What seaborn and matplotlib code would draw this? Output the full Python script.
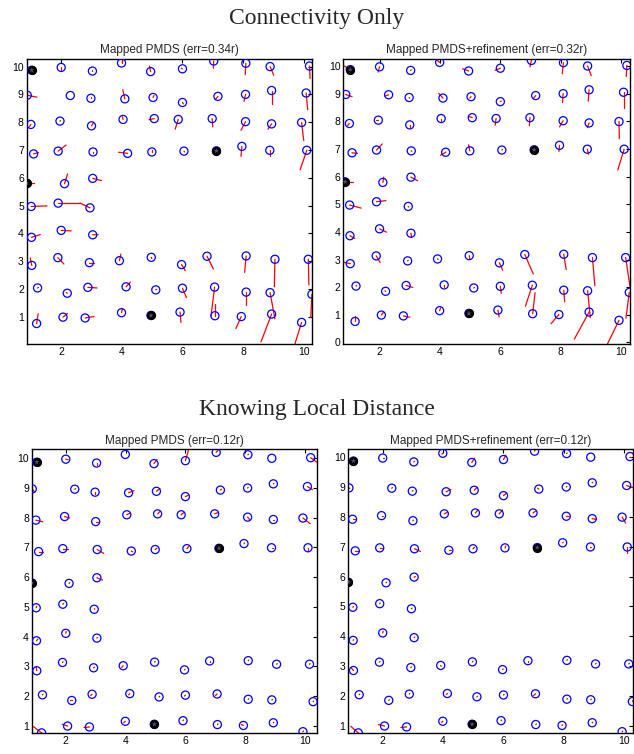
import numpy as np
import pandas as pd
import seaborn as sns
import matplotlib.pyplot as plt

# true sensor positions (same network in all four panels), row by row from top
node_x = [1.03, 2.00, 3.03, 3.99, 4.95, 6.00, 7.03, 8.09, 8.89, 10.19,
          0.88, 2.30, 2.98, 4.10, 5.03, 6.00, 7.17, 8.08, 8.94, 10.08,
          1.00, 1.96, 3.00, 4.04, 5.07, 5.86, 6.98, 8.08, 8.94, 9.93,
          1.09, 1.90, 3.05, 4.19, 4.99, 6.05, 7.12, 7.96, 8.88, 10.10,
          0.86, 2.11, 3.04,
          1.01, 1.90, 2.95,
          1.02, 2.00, 3.04,
          1.03, 1.89, 2.93, 3.92, 4.97, 5.97, 6.81, 8.10, 9.05, 10.15,
          1.22, 2.20, 2.88, 4.14, 5.12, 6.00, 7.06, 8.10, 8.89, 10.27,
          1.19, 2.06, 2.79, 3.99, 4.96, 5.92, 7.07, 7.94, 8.94, 9.93]
node_y = [9.87, 9.97, 9.84, 10.13, 9.82, 9.92, 10.20, 10.12, 10.00, 10.02,
          8.97, 8.96, 8.86, 8.84, 8.89, 8.71, 8.93, 9.00, 9.14, 9.05,
          7.92, 8.04, 7.87, 8.10, 8.13, 8.10, 8.13, 8.02, 7.94, 7.99,
          6.86, 6.96, 6.93, 6.88, 6.93, 6.96, 6.97, 7.13, 6.99, 6.99,
          5.81, 5.79, 5.98,
          4.97, 5.09, 4.92,
          3.86, 4.11, 3.95,
          2.85, 3.13, 2.95, 3.02, 3.14, 2.88, 3.18, 3.19, 3.07, 3.07,
          2.04, 1.85, 2.06, 2.08, 1.97, 2.03, 2.07, 1.89, 1.87, 1.81,
          0.76, 0.99, 0.96, 1.15, 1.05, 1.17, 1.04, 1.01, 1.10, 0.80]
anchor_idx = [0, 36, 40, 73]

# estimated minus true position (dx, dy) for each node
conn_pmds = [(-0.16, 0.12), (0, -0.12), (0, 0.05), (0, 0.15), (-0.04, 0.2), (-0.04, 0.02), (-0.01, -0.26), (-0.02, -0.41), (0.12, -0.31), (0.02, -0.45),
             (0.32, -0.07), (0, 0), (0, 0.05), (-0.07, 0.33), (0.03, 0.07), (0.03, -0.05), (-0.09, -0.12), (-0.05, -0.25), (0, -0.47), (0.05, -0.6),
             (-0.05, -0.08), (0.02, 0.02), (0.06, 0.1), (-0.02, 0.1), (-0.17, -0.04), (-0.1, -0.35), (0.02, -0.3), (-0.15, -0.31), (-0.12, -0.19), (0.07, -0.65),
             (0.16, 0.05), (0.26, 0.22), (0, -0.05), (-0.3, 0.04), (0, 0.08), (0.02, -0.03), (-0.07, -0.1), (-0.03, -0.36), (0, -0.19), (-0.22, -0.7),
             (0.25, 0), (0.1, 0.35), (0.29, -0.08),
             (0.52, 0.02), (0.73, 0), (-0.33, 0.17),
             (0.29, 0.1), (0.33, -0.02), (0.18, 0.01),
             (-0.05, 0.27), (0.2, -0.23), (0.14, 0), (0.05, 0.24), (0.02, -0.04), (0.12, -0.22), (0.21, -0.46), (-0.05, -0.59), (-0.02, -0.99), (0.02, -0.92),
             (0.03, 0.02), (-0.03, 0.03), (0.3, -0.02), (0.14, 0.17), (0.03, 0.02), (0.13, -0.34), (-0.12, -1.05), (0, -0.48), (0.16, -0.94), (-0.04, -0.83),
             (0.05, 0.35), (0.15, 0.13), (0.29, 0.05), (0.03, 0.14), (0.02, 0.02), (0.03, -0.37), (0, 0.42), (-0.18, -0.43), (-0.35, -1.0), (-0.22, -0.77)]
conn_refined = [(-0.2, 0.13), (-0.05, -0.19), (0.02, 0.02), (-0.14, 0.13), (-0.2, 0.08), (-0.17, -0.08), (-0.05, -0.23), (-0.04, -0.4), (0.12, -0.35), (-0.02, -0.4),
                (0.21, -0.08), (-0.12, -0.05), (0.02, -0.02), (-0.14, 0.17), (-0.04, -0.05), (0.03, 0.02), (-0.07, -0.1), (-0.02, -0.32), (-0.03, -0.41), (0, -0.56),
                (-0.06, -0.08), (-0.09, 0), (0, -0.08), (0, -0.08), (-0.13, 0.05), (-0.03, -0.24), (-0.02, -0.29), (-0.12, -0.22), (-0.06, -0.17), (0.01, -0.62),
                (0.18, -0.02), (0.19, 0.22), (0.02, -0.02), (-0.17, -0.11), (-0.04, 0.22), (0.02, 0.02), (-0.02, -0.15), (-0.02, -0.22), (0.04, -0.18), (-0.21, -0.75),
                (0.27, 0), (0.03, 0.19), (0.22, -0.13),
                (0.38, -0.11), (0.31, 0.04), (0.02, -0.02),
                (0.16, -0.1), (0.23, -0.12), (0.02, -0.15),
                (-0.23, 0.05), (0.13, -0.24), (0.02, 0.02), (0.02, -0.02), (0.02, -0.12), (0.11, -0.27), (0.28, -0.7), (0.08, -0.55), (0.08, -1.02), (0.14, -1.03),
                (0.02, 0.02), (-0.02, 0.02), (0.22, -0.07), (0, -0.08), (0.02, 0.02), (0.03, -0.25), (-0.23, -0.76), (0.03, -0.42), (0.09, -0.97), (-0.11, -0.93),
                (0, 0.21), (0.07, 0.1), (0.21, -0.05), (0.03, 0.1), (0.01, 0.01), (0.04, -0.25), (0.08, 0.76), (-0.26, -0.33), (-0.49, -0.98), (-0.38, -0.85)]
dist_pmds = [(0, 0), (0.08, -0.02), (0, -0.06), (0, 0.03), (0.1, 0.14), (0.11, 0.38), (0.08, 0.1), (0.02, 0.02), (0.02, 0), (0.2, -0.15),
             (0.08, -0.11), (0.03, 0.02), (0, -0.05), (0.18, 0.07), (0.12, 0.09), (0.1, 0.05), (0.03, 0.03), (0.02, 0.02), (0.02, 0.02), (0.17, -0.11),
             (0.23, -0.06), (0.17, -0.05), (0.12, 0), (0.11, 0.06), (0.08, 0.08), (0.09, 0.08), (0.12, 0.05), (0.08, -0.1), (0.03, 0), (0.24, -0.19),
             (0.15, 0), (0.19, 0), (0.22, -0.13), (0.05, -0.03), (0.06, 0.05), (0.07, 0.08), (0, 0), (0.02, 0.02), (0.04, 0), (0, -0.08),
             (0, 0), (0.02, 0.02), (0.19, -0.08),
             (0.02, 0.05), (0.03, 0.03), (0.02, 0.02),
             (0.05, 0.06), (0.01, 0.06), (0.02, 0.02),
             (-0.02, 0.13), (0.02, 0.02), (0.03, 0.02), (-0.05, -0.06), (0.02, 0.02), (0.02, 0.02), (0, -0.05), (0.02, 0.02), (0.02, 0.02), (0.02, 0.02),
             (0.02, 0.02), (-0.06, 0), (-0.05, -0.04), (-0.04, -0.04), (0.02, 0.02), (-0.03, -0.03), (-0.06, -0.06), (0.02, 0.02), (0.02, 0.02), (0.02, 0.02),
             (-0.27, 0.21), (-0.18, 0.06), (-0.18, -0.02), (-0.06, -0.05), (0, 0), (0.02, 0.02), (0.02, 0.02), (-0.07, 0.03), (0.02, 0.02), (0.02, 0.02)]
dist_refined = [(0, 0), (0.05, 0), (0.02, 0.02), (-0.03, -0.03), (0.09, 0.15), (0.08, 0.15), (0.02, 0.06), (0.02, 0.02), (0.02, 0), (0.05, 0),
                (0.03, -0.02), (0.02, 0.02), (0.02, 0.02), (0.16, 0.08), (0.1, 0.1), (0.11, 0.09), (-0.04, 0.03), (0.02, 0.02), (0.02, 0.02), (0.2, -0.07),
                (0.1, 0), (0.05, 0), (0.02, 0.02), (0.1, 0.05), (0.08, 0.1), (0.11, 0.13), (0.1, 0.07), (0.1, 0), (0.14, -0.03), (0.12, -0.2),
                (0.12, 0), (0.1, 0), (0.2, -0.09), (0.06, 0), (0.05, 0.05), (0.03, 0.06), (0, 0), (0.02, 0.02), (0.02, 0), (0, -0.2),
                (0, 0), (0.02, 0.02), (0.04, 0.02),
                (0.02, 0.02), (0.02, 0.02), (0.02, 0.02),
                (0.02, 0.02), (0.01, 0.06), (0.02, 0.02),
                (-0.08, 0.1), (0.02, 0.02), (0.02, 0.02), (0.02, -0.03), (0.02, 0.02), (0.02, 0.02), (0, -0.05), (0.02, 0.02), (0.02, 0.02), (0.02, 0.02),
                (0.02, 0.02), (0.02, 0.02), (0.02, 0.02), (-0.03, -0.03), (0.02, 0.02), (0.02, 0.02), (-0.06, -0.06), (0.02, 0.02), (0.02, 0.02), (0.02, 0.02),
                (-0.25, 0.22), (-0.2, 0.05), (-0.19, -0.02), (-0.04, -0.04), (0, 0), (0.02, 0.02), (0.02, 0.02), (0.02, 0.02), (0.02, 0.02), (0.02, 0.02)]

panel_titles = ['Mapped PMDS (err=0.34r)', 'Mapped PMDS+refinement (err=0.32r)',
                'Mapped PMDS (err=0.12r)', 'Mapped PMDS+refinement (err=0.12r)']
group_titles = ['Connectivity Only', 'Knowing Local Distance']

sns.set_style('white')
plt.rcParams['font.family'] = ['Liberation Sans', 'DejaVu Sans']


def draw_panel(ax, offsets, title):
    tx = np.array(node_x)
    ty = np.array(node_y)
    off = np.array(offsets)
    ex = tx + off[:, 0]
    ey = ty + off[:, 1]
    n = len(tx)
    seg = pd.DataFrame({
        'node': np.repeat(np.arange(n), 2),
        'x': np.column_stack([tx, ex]).ravel(),
        'y': np.column_stack([ty, ey]).ravel(),
    })
    sns.lineplot(data=seg, x='x', y='y', units='node', estimator=None, sort=False,
                 color='red', linewidth=0.9, ax=ax, zorder=2)
    sns.scatterplot(x=tx, y=ty, marker='o', s=34, color='none', edgecolor='blue',
                    linewidth=0.9, ax=ax, zorder=3)
    sns.scatterplot(x=tx[anchor_idx], y=ty[anchor_idx], marker='o', s=34, color='black',
                    edgecolor='black', linewidth=0.8, ax=ax, zorder=4)
    sns.scatterplot(x=tx[anchor_idx], y=ty[anchor_idx], marker='*', s=16, color='#555555',
                    edgecolor='none', ax=ax, zorder=5)

    # ticks first, then the tight limits (set_ticks would widen the view)
    ax.set_xticks([2, 4, 6, 8, 10])
    ax.set_yticks(range(0, 11))
    allx = np.concatenate([tx, ex])
    ally = np.concatenate([ty, ey])
    ax.set_xlim(allx.min(), allx.max())
    ax.set_ylim(ally.min(), ally.max())
    ax.set_xlabel('')
    ax.set_ylabel('')
    ax.tick_params(direction='in', top=True, right=True, length=3, width=0.8,
                   labelsize=7.5, pad=2, colors='black')
    for sp in ax.spines.values():
        sp.set_linewidth(1.0)
        sp.set_color('black')
    ax.set_title(title, fontsize=8.5, pad=4)


fig = plt.figure(figsize=(6.34, 7.54), dpi=100)
boxes = [(0.042, 0.544, 0.450, 0.378), (0.5415, 0.544, 0.452, 0.378),
         (0.050, 0.028, 0.4495, 0.376), (0.5494, 0.028, 0.449, 0.376)]
for box, offs, title in zip(boxes, [conn_pmds, conn_refined, dist_pmds, dist_refined], panel_titles):
    ax = fig.add_axes(box)
    draw_panel(ax, offs, title)

fig.text(0.5, 0.975, group_titles[0], ha='center', va='center', fontsize=17,
         family=['Liberation Serif', 'DejaVu Serif'])
fig.text(0.5, 0.457, group_titles[1], ha='center', va='center', fontsize=17,
         family=['Liberation Serif', 'DejaVu Serif'])

fig.savefig('out.png', dpi=100)
